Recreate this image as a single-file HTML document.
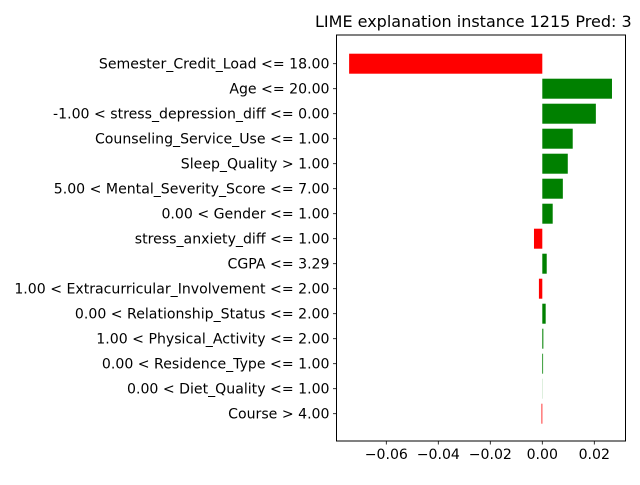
<!DOCTYPE html>
<html><head><meta charset="utf-8"><style>
body{margin:0;background:#fff;overflow:hidden}
svg{font-family:"DejaVu Sans","Liberation Sans",sans-serif}
</style></head><body>
<svg id="c" width="640" height="480">
<text x="315" y="27" font-size="16">LIME explanation instance 1215 Pred: 3</text>
</svg>
<script>
const categories=["Semester_Credit_Load <= 18.00","Age <= 20.00","-1.00 < stress_depression_diff <= 0.00","Counseling_Service_Use <= 1.00","Sleep_Quality > 1.00","5.00 < Mental_Severity_Score <= 7.00","0.00 < Gender <= 1.00","stress_anxiety_diff <= 1.00","CGPA <= 3.29","1.00 < Extracurricular_Involvement <= 2.00","0.00 < Relationship_Status <= 2.00","1.00 < Physical_Activity <= 2.00","0.00 < Residence_Type <= 1.00","0.00 < Diet_Quality <= 1.00","Course > 4.00"];
const values=[-0.0743,0.0268,0.0206,0.0117,0.0098,0.0079,0.0040,-0.0032,0.0017,-0.0013,0.0013,0.0004,0.0003,0.00005,-0.0003];
const xTicks=[-0.06,-0.04,-0.02,0.00,0.02];
const xTickLabels=["\u22120.06","\u22120.04","\u22120.02","0.00","0.02"];
const NS="http://www.w3.org/2000/svg",svg=document.getElementById('c');
const L=336.5,R=625.5,T=35,B=441;
const x=v=>542.3+v*2600;
const y=i=>63.7+i*25;
function mk(t,a){const e=document.createElementNS(NS,t);for(const k in a)e.setAttribute(k,a[k]);svg.appendChild(e);return e;}
values.forEach((v,i)=>{
 const r=mk('rect',{x:Math.min(x(0),x(v)),y:y(i)-10,width:Math.abs(x(v)-x(0)),height:20,fill:v<0?'#ff0000':'#008000'});
 
 
 mk('line',{x1:L-3.5,x2:L,y1:y(i),y2:y(i),stroke:'#000','stroke-width':0.8});
 const t=mk('text',{x:L-7,y:y(i)+5,'text-anchor':'end','font-size':14.1});
 t.textContent=categories[i];
 
 
});
xTicks.forEach((v,i)=>{
 mk('line',{x1:x(v),x2:x(v),y1:B,y2:B+3.5,stroke:'#000','stroke-width':0.8});
 const t=mk('text',{x:x(v),y:B+18,'text-anchor':'middle','font-size':14.1});
 t.textContent=xTickLabels[i];
 
 
});
const f=mk('rect',{x:L,y:T,width:R-L,height:B-T,fill:'none',stroke:'#000','stroke-width':1});


</script>
</body></html>
